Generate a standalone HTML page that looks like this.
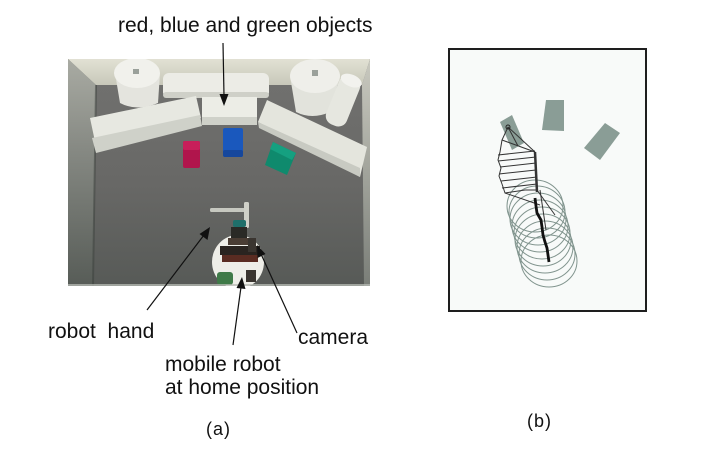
<!DOCTYPE html>
<html>
<head>
<meta charset="utf-8">
<style>
  html,body{margin:0;padding:0;background:#fff;}
  svg{display:block;}
  .lbl{font-family:"Liberation Sans",Arial,sans-serif;font-size:21px;fill:#111;}
  .cap{font-family:"Liberation Sans","Noto Sans CJK JP",sans-serif;font-size:18px;fill:#111;letter-spacing:1px;}
</style>
</head>
<body>
<svg width="720" height="454" viewBox="0 0 720 454" xmlns="http://www.w3.org/2000/svg">
  <defs>
    <linearGradient id="floor" x1="0" y1="0" x2="0" y2="1">
      <stop offset="0" stop-color="#727270"/>
      <stop offset="0.55" stop-color="#686866"/>
      <stop offset="1" stop-color="#575a57"/>
    </linearGradient>
    <linearGradient id="lwall" x1="0" y1="0" x2="0" y2="1">
      <stop offset="0" stop-color="#a9aba3"/>
      <stop offset="0.4" stop-color="#868983"/>
      <stop offset="1" stop-color="#575c57"/>
    </linearGradient>
    <linearGradient id="rwall" x1="0" y1="0" x2="0" y2="1">
      <stop offset="0" stop-color="#c9c9bf"/>
      <stop offset="1" stop-color="#7a7e78"/>
    </linearGradient>
    <linearGradient id="twall" x1="0" y1="0" x2="0" y2="1">
      <stop offset="0" stop-color="#e2e1d4"/>
      <stop offset="1" stop-color="#c8c8ba"/>
    </linearGradient>
    <clipPath id="photo"><rect x="68" y="59" width="302" height="227"/></clipPath>
  </defs>

  <!-- ===== Panel (a) photo ===== -->
  <g clip-path="url(#photo)">
    <rect x="68" y="59" width="302" height="227" fill="url(#floor)"/>
    <polygon points="68,59 370,59 362,85 96,85" fill="url(#twall)"/>
    <polygon points="68,59 96,85 93,286 68,286" fill="url(#lwall)"/>
    <line x1="96" y1="85" x2="93" y2="286" stroke="#3a3f3b" stroke-width="2" opacity="0.5"/>
    <polygon points="370,59 362,85 364,286 370,286" fill="url(#rwall)"/>

    <!-- lying cylinder -->
    <rect x="163" y="73" width="106" height="25" rx="6" fill="#ecece6"/>
    <rect x="163" y="92" width="106" height="6" rx="3" fill="#cfd0c8"/>

    <!-- top-left standing cylinder -->
    <path d="M115,73 L120,103 Q137,112 158,103 L160,73 Z" fill="#e4e4de"/>
    <ellipse cx="137" cy="73" rx="23" ry="15" fill="#f1f1ec"/>
    <rect x="133" y="69" width="6" height="5" fill="#9aa09a"/>

    <!-- top-right standing cylinder -->
    <path d="M290,76 L296,112 Q312,120 330,112 L340,76 Z" fill="#e2e3dc"/>
    <ellipse cx="315" cy="76" rx="25" ry="17" fill="#efefea"/>
    <rect x="312" y="70" width="6" height="6" fill="#9aa09a"/>

    <!-- tilted cylinder right -->
    <g transform="translate(343,101) rotate(22)">
      <rect x="-11" y="-26" width="22" height="52" rx="9" fill="#e6e7e0"/>
      <ellipse cx="0" cy="-22" rx="11" ry="6" fill="#f2f2ee"/>
    </g>

    <!-- left long box -->
    <polygon points="90,118 196,96 201,118 97,151" fill="#e7e8e1"/>
    <polygon points="92,138 200,115 202,126 96,153" fill="#cfd1c9"/>
    <!-- center box -->
    <rect x="202" y="97" width="55" height="28" fill="#ecede6"/>
    <rect x="202" y="117" width="55" height="8" fill="#cfd1c9"/>
    <!-- right long box -->
    <polygon points="267,100 367,147 360,177 258,122" fill="#e4e5dd"/>
    <polygon points="258,122 360,168 360,177 259,128" fill="#c8cac2"/>

    <!-- red cube -->
    <rect x="183" y="141" width="17" height="27" rx="2" fill="#b0154c"/>
    <rect x="183" y="141" width="17" height="9" rx="2" fill="#c81f5a"/>
    <!-- blue cube -->
    <rect x="223" y="128" width="20" height="29" rx="2" fill="#1a58bd"/>
    <rect x="223" y="150" width="20" height="7" rx="2" fill="#16479c"/>
    <!-- green cube -->
    <polygon points="273,142 296,153 287,175 265,165" fill="#0f8a6d"/>
    <polygon points="273,142 296,153 292,160 270,149" fill="#15a080"/>

    <!-- robot -->
    <ellipse cx="238" cy="262" rx="26" ry="27" fill="#eeeee8"/>
    <rect x="210" y="208" width="38" height="4" rx="1.5" fill="#c6c8c0"/>
    <rect x="244" y="202" width="5" height="26" rx="1.5" fill="#cfd0c8"/>
    <rect x="233" y="220" width="13" height="7" rx="2" fill="#1f6f6a"/>
    <rect x="231" y="227" width="16" height="12" fill="#2a2a26"/>
    <rect x="228" y="238" width="22" height="7" fill="#4a3d34"/>
    <rect x="220" y="246" width="40" height="9" fill="#2a2420"/>
    <rect x="222" y="255" width="36" height="7" fill="#5a2c22"/>
    <rect x="248" y="238" width="8" height="14" fill="#3a3530"/>
    <rect x="217" y="272" width="16" height="13" rx="3" fill="#3f7a48"/>
    <rect x="246" y="270" width="10" height="12" fill="#3a3530"/>
    <line x1="68" y1="285" x2="370" y2="285" stroke="#b8bcb6" stroke-width="1.5"/>
  </g>

  <!-- arrows for (a) -->
  <g stroke="#111" stroke-width="1.2" fill="#111">
    <line x1="223" y1="43" x2="224" y2="96"/>
    <polygon points="224,106 219.5,94 228.5,94" stroke="none"/>

    <line x1="147" y1="310" x2="204" y2="235"/>
    <polygon points="210,227 207.5,240 199.5,234" stroke="none"/>

    <line x1="233" y1="345" x2="241" y2="287"/>
    <polygon points="242,277 245.5,289 236.5,288" stroke="none"/>

    <line x1="297" y1="333" x2="261" y2="254"/>
    <polygon points="257,245 265.5,254 257.5,258" stroke="none"/>
  </g>

  <!-- labels -->
  <text class="lbl" x="118" y="32">red, blue and green objects</text>
  <text class="lbl" x="48" y="338" xml:space="preserve" style="white-space:pre">robot  hand</text>
  <text class="lbl" x="298" y="344">camera</text>
  <text class="lbl" x="165" y="371">mobile robot</text>
  <text class="lbl" x="165" y="394">at home position</text>
  <text class="cap" x="206" y="435">(a)</text>
  <text class="cap" x="527" y="427">(b)</text>

  <!-- ===== Panel (b) ===== -->
  <rect x="449" y="49" width="197" height="262" fill="#f8faf9" stroke="#1e1e1e" stroke-width="2"/>
  <g fill="#8a9d96">
    <polygon points="500,122 512,115 524,143 512,150"/>
    <polygon points="546,100 564,100 564,131 542,130"/>
    <polygon points="605,123 620,133 600,160 584,148"/>
  </g>
  <g fill="none" stroke="#758a83" stroke-width="1" opacity="0.9">
    <ellipse cx="535" cy="206" rx="28" ry="26"/>
    <ellipse cx="537" cy="212" rx="28" ry="26"/>
    <ellipse cx="538" cy="219" rx="28" ry="26"/>
    <ellipse cx="540" cy="226" rx="28" ry="26"/>
    <ellipse cx="542" cy="233" rx="28" ry="26"/>
    <ellipse cx="543" cy="240" rx="28" ry="26"/>
    <ellipse cx="545" cy="247" rx="28" ry="26"/>
    <ellipse cx="547" cy="254" rx="28" ry="26"/>
    <ellipse cx="549" cy="261" rx="28" ry="26"/>
  </g>
  <g fill="none" stroke="#333" stroke-width="1">
    <polyline points="508,127 502,140 500,152 498,160 501,168 499,176 502,184 505,193 525,190 537,190"/>
    <line x1="508" y1="127" x2="535" y2="152"/>
    <line x1="508" y1="127" x2="518" y2="146"/>
    <line x1="502" y1="140" x2="535" y2="152"/>
    <line x1="498" y1="155" x2="535" y2="151"/>
    <line x1="498" y1="161" x2="536" y2="157"/>
    <line x1="500" y1="167" x2="536" y2="163"/>
    <line x1="499" y1="174" x2="536" y2="170"/>
    <line x1="501" y1="181" x2="537" y2="177"/>
    <line x1="502" y1="188" x2="537" y2="184"/>
    <line x1="505" y1="193" x2="540" y2="205"/>
    <line x1="537" y1="190" x2="555" y2="215"/>
    <line x1="540" y1="190" x2="546" y2="230"/>
  </g>
  <circle cx="508" cy="127" r="2" fill="none" stroke="#222" stroke-width="1"/>
  <line x1="535" y1="152" x2="537" y2="192" stroke="#333" stroke-width="2.5"/>
  <polyline points="535,198 536,206 537,213 541,220 542,227 543,235 545,242 547,248 548,255 549,262" fill="none" stroke="#111" stroke-width="2.8"/>
</svg>
</body>
</html>
